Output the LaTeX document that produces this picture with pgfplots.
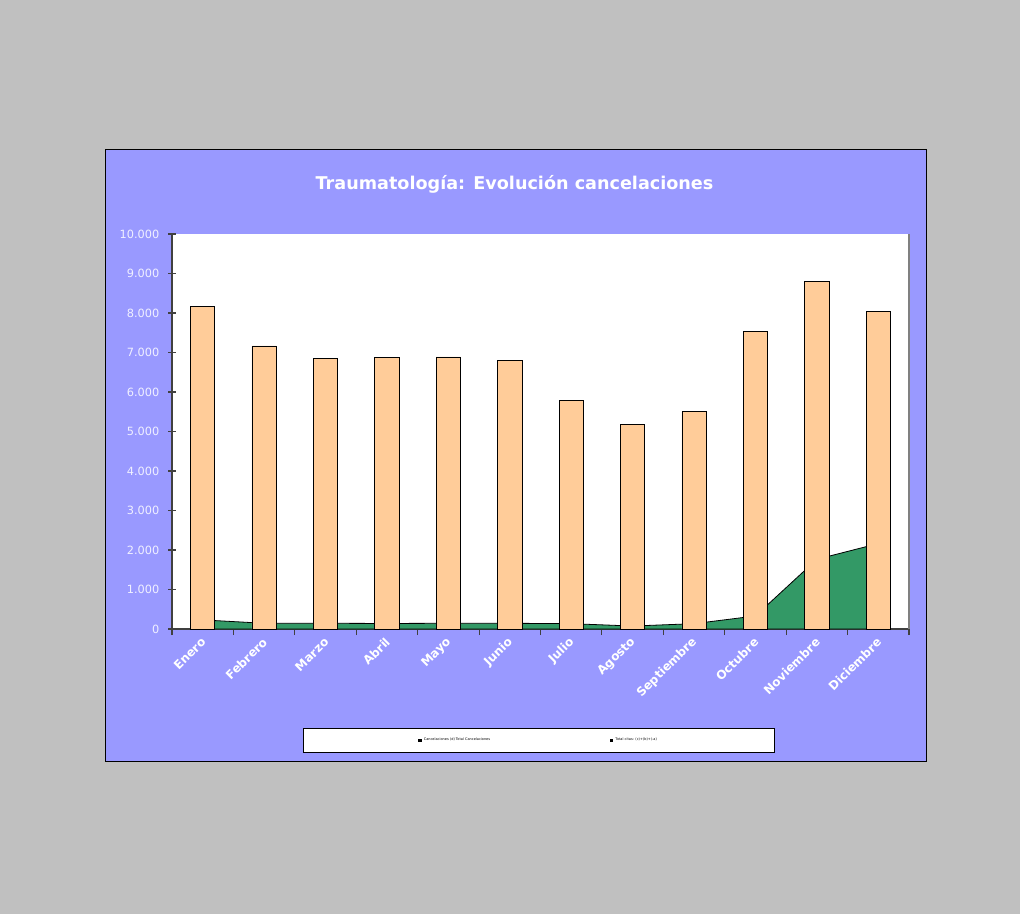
\documentclass[border=0pt]{standalone}
\usepackage{pgfplots}
\pgfplotsset{compat=1.18}
\usepackage{fontspec}
\setmainfont{DejaVu Sans}
\definecolor{bggrey}{HTML}{C0C0C0}
\definecolor{peri}{HTML}{9999FF}
\definecolor{barc}{HTML}{FFCC99}
\definecolor{areac}{HTML}{339966}
\definecolor{ticklab}{HTML}{F0F0FF}
\begin{document}
\begin{tikzpicture}[x=0.75pt,y=0.75pt]
\fill[bggrey] (0,0) rectangle (1020,914);
\filldraw[fill=peri,draw=black,line width=0.6pt] (105,153) rectangle (926,765);
\node[font=\fontsize{13.2}{16}\selectfont\bfseries,text=white] at (514.5,730) {Traumatología: Evolución cancelaciones};
\begin{axis}[
  at={(129pt,213.75pt)}, anchor=south west,
  scale only axis, width=552.75pt, height=296.25pt,
  axis background/.style={fill=white},
  xmin=-0.5, xmax=11.5, ymin=0, ymax=10000,
  axis x line*=bottom, axis y line*=left,
  axis line style={black!75, line width=0.8pt},
  xtick={0,...,11},
  xticklabels={Enero,Febrero,Marzo,Abril,Mayo,Junio,Julio,Agosto,Septiembre,Octubre,Noviembre,Diciembre},
  minor xtick={-0.5,0.5,...,11.5},
  major x tick style={draw=none},
  minor x tick style={black!75, line width=0.8pt},
  minor tick length=4.5pt,
  ytick={0,1000,...,10000},
  ytick style={black!75, line width=0.8pt},
  ytick align=center, major tick length=6pt,
  xtick align=outside,
  xticklabel style={font=\fontsize{9}{10}\selectfont\bfseries, text=white, rotate=45, anchor=east, inner sep=1pt, yshift=-2pt},
  yticklabel style={font=\fontsize{8.5}{10}\selectfont, text=ticklab, xshift=-3pt},
  /pgf/number format/.cd, assume math mode=true, 1000 sep={.},
  /pgfplots/.cd,
  scaled y ticks=false,
  legend style={at={(0.498,-0.282)}, anchor=center, fill=white, draw=black, line width=0.6pt,
    font=\fontsize{2.6}{3}\selectfont, inner xsep=86.5pt, inner ysep=5.5pt,
    /tikz/every even column/.append style={column sep=88pt}},
  legend columns=2,
  legend cell align=left,
  clip=false,
]
\addplot[fill=areac, draw=black, line width=0.6pt, forget plot] coordinates {
 (0,230) (1,145) (2,145) (3,140) (4,145) (5,145) (6,135) (7,75) (8,135) (9,330) (10,1765) (11,2163)
} \closedcycle;
\addplot[ybar, bar width=18.2pt, fill=barc, draw=black, line width=0.6pt, forget plot] coordinates {
 (0,8160) (1,7167) (2,6855) (3,6873) (4,6888) (5,6797) (6,5782) (7,5189) (8,5503) (9,7540) (10,8790) (11,8047)
};
\draw[gray, line width=0.8pt] (rel axis cs:1,0) -- (rel axis cs:1,1);
\addlegendimage{only marks, mark=square*, mark size=1pt, black}
\addlegendentry{Cancelaciones (d) Total Cancelaciones}
\addlegendimage{only marks, mark=square*, mark size=1pt, black}
\addlegendentry{Total citas: (c)+(b)+(-a)}
\end{axis}
\end{tikzpicture}
\end{document}
